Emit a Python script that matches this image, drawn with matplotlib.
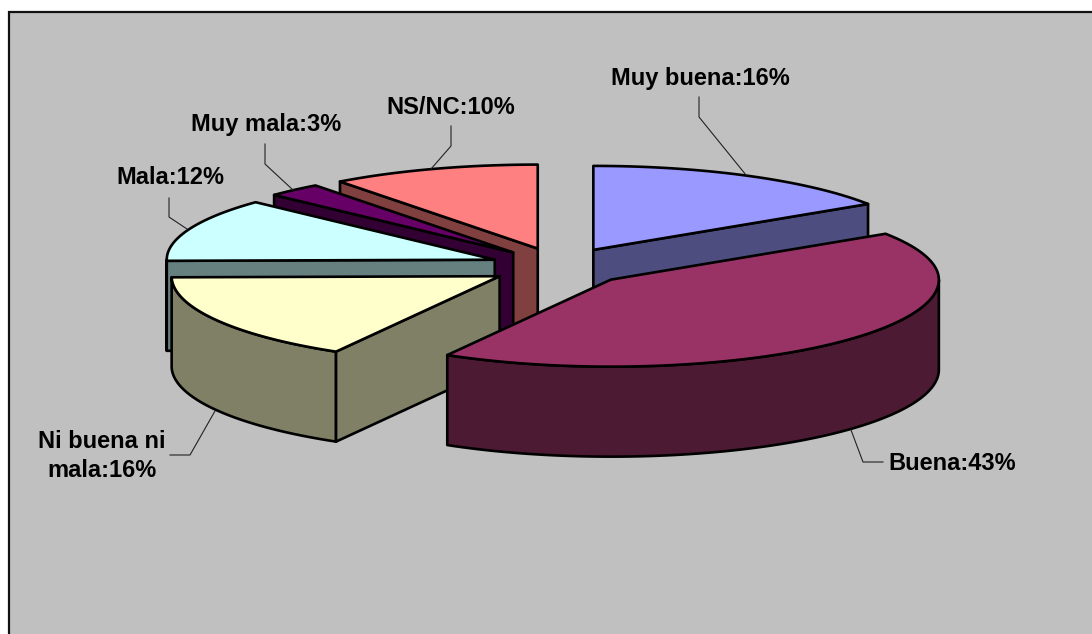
import numpy as np
import matplotlib
matplotlib.use('Agg')
import matplotlib.pyplot as plt
from matplotlib.patches import Polygon, Rectangle

plt.rcParams['font.family'] = ['Liberation Sans', 'DejaVu Sans']

names = ['Muy buena', 'Buena', 'Ni buena ni\nmala', 'Mala', 'Muy mala', 'NS/NC']
values = [15.8, 42.51, 16.49, 12.2, 2.7, 10.3]
tops = ['#9999FF', '#993366', '#FFFFCC', '#CCFFFF', '#660066', '#FF8080']
sides = ['#4D4D80', '#4D1A33', '#808066', '#668080', '#330033', '#804040']

# painter's order, back to front
order = [5, 0, 4, 3, 2, 1]

# pie geometry, in pixels. the front half is a bit taller (perspective)
cx, cy = 560, 266.6
rx = 328
ry_back, ry_front = 84, 87
ex, ey = 70, 19
depth = 90

label_pos = [(700, 79), (952, 463), (102, 456), (170, 178), (266, 125), (451, 108)]
leaders = [
    [(699, 97), (699, 117), (746, 175)],
    [(883, 462), (863, 462), (851, 430)],
    [(170, 455), (190, 455), (215, 411)],
    [(169, 198), (169, 217), (187, 229)],
    [(265, 144), (265, 164), (293, 190)],
    [(451, 126), (451, 146), (431, 169)],
]

fig = plt.figure(figsize=(10.92, 6.34), dpi=100)
ax = fig.add_axes([0, 0, 1, 1])
ax.set_xlim(0, 1092)
ax.set_ylim(634, 0)
ax.axis('off')

# the frame runs off the right and bottom of the picture
ax.add_patch(Rectangle((9, 12), 1100, 640, fc='#C0C0C0', ec='#111111', lw=1.6))


def arc(x0, y0, t0, t1):
    t = np.radians(np.linspace(t0, t1, 80))
    c = np.cos(t)
    return np.column_stack([x0 + rx * np.sin(t), y0 - np.where(c < 0, ry_front, ry_back) * c])


def face(pts, color):
    ax.add_patch(Polygon(pts, closed=True, fc=color, ec='black', lw=1.9, joinstyle='round'))


def radial_wall(x0, y0, t, color):
    p = arc(x0, y0, t, t)[0]
    face([(x0, y0), p, (p[0], p[1] + depth), (x0, y0 + depth)], color)


edges = np.cumsum([0] + values) / np.sum(values) * 360

for i in order:
    t0, t1 = edges[i], edges[i + 1]
    mid = np.radians((t0 + t1) / 2)
    x0 = cx + ex * np.sin(mid)
    y0 = cy - ey * np.cos(mid)

    lo, hi = max(t0, 90), min(t1, 270)
    if hi > lo:
        rim = arc(x0, y0, lo, hi)
        low = rim[::-1] + [0, depth]
        face(np.vstack([rim, low]), sides[i])
    if np.sin(np.radians(t0)) < -1e-6:
        radial_wall(x0, y0, t0, sides[i])
    if np.sin(np.radians(t1)) > 1e-6:
        radial_wall(x0, y0, t1, sides[i])

    face(np.vstack([[(x0, y0)], arc(x0, y0, t0, t1)]), tops[i])

for name, value, pos, line in zip(names, values, label_pos, leaders):
    xs = [p[0] for p in line]
    ys = [p[1] for p in line]
    ax.plot(xs, ys, color='#222222', lw=0.8)
    ax.text(pos[0], pos[1], '%s:%.0f%%' % (name, value), ha='center', va='center',
            fontsize=17, fontweight='bold', color='black', linespacing=1.35)

fig.savefig('out.png', dpi=100, facecolor='white')
